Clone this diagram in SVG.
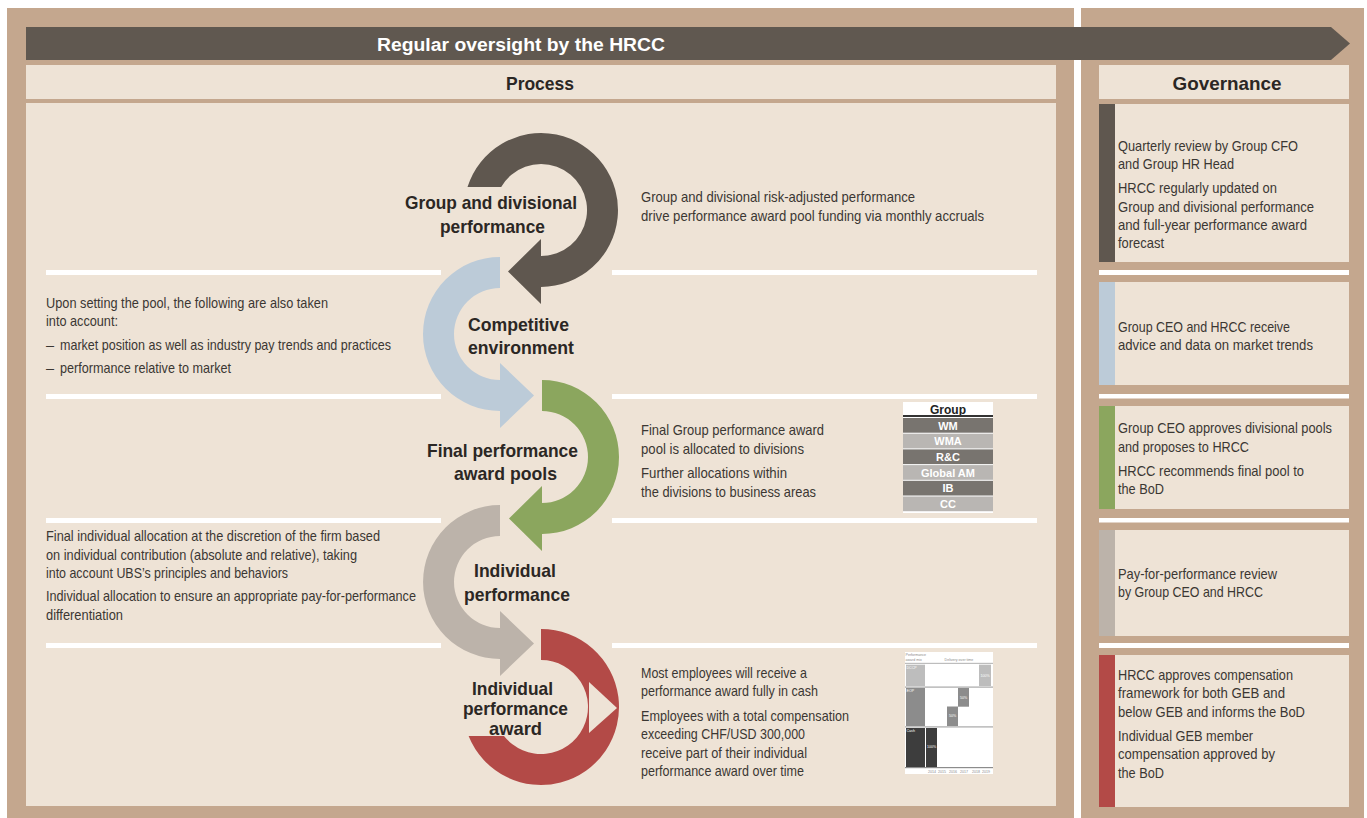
<svg xmlns="http://www.w3.org/2000/svg" width="1367" height="818" viewBox="0 0 1367 818">
<defs>
<style>
.tan{fill:#c4a78e}
.lt{fill:#eee3d6}
.sep{fill:#ffffff}
.b{font-family:"Liberation Sans",Arial,sans-serif;font-size:14.5px;fill:#3b3733}
.h{font-family:"Liberation Sans",Arial,sans-serif;font-weight:bold;font-size:19px;fill:#2b2724;text-anchor:middle}
.hd{font-family:"Liberation Sans",Arial,sans-serif;font-weight:bold;font-size:19px;fill:#2b2724;text-anchor:middle}
.t{font-family:"Liberation Sans",Arial,sans-serif;font-weight:bold;font-size:11px;fill:#ffffff;text-anchor:middle}
.c{font-family:"Liberation Sans",Arial,sans-serif;font-size:3.6px;fill:#8a8a8a}
.cw{font-family:"Liberation Sans",Arial,sans-serif;font-size:3.6px;fill:#ffffff}
</style>
</defs>
<rect width="1367" height="818" fill="#ffffff"/>
<!-- panels -->
<rect class="tan" x="7" y="8" width="1067" height="810"/>
<rect class="tan" x="1081" y="8" width="283" height="810"/>
<!-- banner -->
<g id="banner">
<path d="M26 27 H1331 L1350 43.5 L1331 60 H26 Z" fill="#605850"/>
<text x="521" y="51" font-family="Liberation Sans, Arial, sans-serif" font-weight="bold" font-size="18" fill="#ffffff" text-anchor="middle" textLength="288" lengthAdjust="spacingAndGlyphs">Regular oversight by the HRCC</text>
</g>
<!-- headers -->
<g id="process-header">
<rect class="lt" x="26" y="65" width="1030" height="34"/>
<text class="hd" x="540" y="89.5" textLength="68" lengthAdjust="spacingAndGlyphs">Process</text>
</g>
<g id="governance-header">
<rect class="lt" x="1099" y="65" width="250" height="34"/>
<text class="hd" x="1227" y="89.5" textLength="109" lengthAdjust="spacingAndGlyphs">Governance</text>
</g>
<!-- process area -->
<rect class="lt" x="26" y="103" width="1030" height="703"/>
<g id="separators">
<rect class="sep" x="46" y="270" width="395" height="5"/>
<rect class="sep" x="612" y="270" width="425" height="5"/>
<rect class="sep" x="46" y="394" width="395" height="5"/>
<rect class="sep" x="612" y="394" width="425" height="5"/>
<rect class="sep" x="46" y="518" width="395" height="5"/>
<rect class="sep" x="612" y="518" width="425" height="5"/>
<rect class="sep" x="46" y="643" width="395" height="5"/>
<rect class="sep" x="612" y="643" width="425" height="5"/>
</g>
<!-- connectors: circular arrows -->
<g id="connectors">
<path d="M467.5 187 A77 77 0 1 1 541 287 L541 304 L508 271.5 L541 239 L541 256 A46 46 0 1 0 501.2 187 Z" fill="#5f574f"/>
<path d="M500 257 A77 77 0 0 0 500 411 L500 428 L534 395.5 L500 363 L500 380 A46 46 0 0 1 500 288 Z" fill="#bccbd8"/>
<path d="M542 380 A77 77 0 0 1 542 534 L542 551 L509 518.5 L542 486 L542 503 A46 46 0 0 0 542 411 Z" fill="#8ba65e"/>
<path d="M500 505 A77 77 0 0 0 500 659 L500 676 L534 643.5 L500 611 L500 628 A46 46 0 0 1 500 536 Z" fill="#bcb3aa"/>
<path d="M541 629 A78 78 0 1 1 468.6 736 L504 736 A47 47 0 1 0 541 660 Z" fill="#b34a47"/>
<path d="M589 682 L617 708 L589 733 Z" fill="#eee3d6"/>
</g>
<!-- stage 1 -->
<g id="stage-group-performance">
<text class="h" x="491" y="209" textLength="172" lengthAdjust="spacingAndGlyphs">Group and divisional</text>
<text class="h" x="492.5" y="232.5" textLength="105" lengthAdjust="spacingAndGlyphs">performance</text>
<text class="b" x="641" y="202" textLength="274" lengthAdjust="spacingAndGlyphs">Group and divisional risk-adjusted performance</text>
<text class="b" x="641" y="221" textLength="343" lengthAdjust="spacingAndGlyphs">drive performance award pool funding via monthly accruals</text>
</g>
<!-- stage 2 -->
<g id="stage-competitive-environment">
<text class="h" x="518.5" y="330.5" textLength="101" lengthAdjust="spacingAndGlyphs">Competitive</text>
<text class="h" x="521" y="353.5" textLength="106" lengthAdjust="spacingAndGlyphs">environment</text>
<text class="b" x="46" y="307.5" textLength="282" lengthAdjust="spacingAndGlyphs">Upon setting the pool, the following are also taken</text>
<text class="b" x="46" y="325.5" textLength="72" lengthAdjust="spacingAndGlyphs">into account:</text>
<text class="b" x="46" y="350">–</text>
<text class="b" x="60" y="350" textLength="331" lengthAdjust="spacingAndGlyphs">market position as well as industry pay trends and practices</text>
<text class="b" x="46" y="372.5">–</text>
<text class="b" x="60" y="372.5" textLength="171" lengthAdjust="spacingAndGlyphs">performance relative to market</text>
</g>
<!-- stage 3 -->
<g id="stage-final-pools">
<text class="h" x="502.5" y="456.5" textLength="151" lengthAdjust="spacingAndGlyphs">Final performance</text>
<text class="h" x="505.5" y="480" textLength="103" lengthAdjust="spacingAndGlyphs">award pools</text>
<text class="b" x="641" y="435" textLength="183" lengthAdjust="spacingAndGlyphs">Final Group performance award</text>
<text class="b" x="641" y="453.5" textLength="163" lengthAdjust="spacingAndGlyphs">pool is allocated to divisions</text>
<text class="b" x="641" y="477.5" textLength="146" lengthAdjust="spacingAndGlyphs">Further allocations within</text>
<text class="b" x="641" y="496.5" textLength="175" lengthAdjust="spacingAndGlyphs">the divisions to business areas</text>
</g>
<g id="division-table">
<rect x="903" y="402" width="90" height="111" fill="#ffffff"/>
<text x="948" y="414" font-family="Liberation Sans, Arial, sans-serif" font-weight="bold" font-size="12" fill="#222222" text-anchor="middle">Group</text>
<rect x="903" y="415" width="90" height="2" fill="#333333"/>
<rect x="903" y="418" width="90" height="14.7" fill="#78746f"/>
<rect x="903" y="433.7" width="90" height="14.7" fill="#b9b6b3"/>
<rect x="903" y="449.4" width="90" height="14.7" fill="#78746f"/>
<rect x="903" y="465.1" width="90" height="14.7" fill="#b9b6b3"/>
<rect x="903" y="480.8" width="90" height="14.7" fill="#78746f"/>
<rect x="903" y="496.5" width="90" height="14.7" fill="#b9b6b3"/>
<text class="t" x="948" y="429.5">WM</text>
<text class="t" x="948" y="445.2">WMA</text>
<text class="t" x="948" y="460.9">R&amp;C</text>
<text class="t" x="948" y="476.6">Global AM</text>
<text class="t" x="948" y="492.3">IB</text>
<text class="t" x="948" y="508">CC</text>
</g>
<!-- stage 4 -->
<g id="stage-individual-performance">
<text class="h" x="515" y="577" textLength="82" lengthAdjust="spacingAndGlyphs">Individual</text>
<text class="h" x="517" y="600.5" textLength="106" lengthAdjust="spacingAndGlyphs">performance</text>
<text class="b" x="46" y="541" textLength="334" lengthAdjust="spacingAndGlyphs">Final individual allocation at the discretion of the firm based</text>
<text class="b" x="46" y="559.5" textLength="311" lengthAdjust="spacingAndGlyphs">on individual contribution (absolute and relative), taking</text>
<text class="b" x="46" y="578" textLength="242" lengthAdjust="spacingAndGlyphs">into account UBS’s principles and behaviors</text>
<text class="b" x="46" y="601" textLength="370" lengthAdjust="spacingAndGlyphs">Individual allocation to ensure an appropriate pay-for-performance</text>
<text class="b" x="46" y="619.5" textLength="77" lengthAdjust="spacingAndGlyphs">differentiation</text>
</g>
<!-- stage 5 -->
<g id="stage-individual-award">
<text class="h" x="512.5" y="695" textLength="81" lengthAdjust="spacingAndGlyphs">Individual</text>
<text class="h" x="515.5" y="715" textLength="105" lengthAdjust="spacingAndGlyphs">performance</text>
<text class="h" x="515.5" y="734.5" textLength="53" lengthAdjust="spacingAndGlyphs">award</text>
<text class="b" x="641" y="678" textLength="166" lengthAdjust="spacingAndGlyphs">Most employees will receive a</text>
<text class="b" x="641" y="696" textLength="177" lengthAdjust="spacingAndGlyphs">performance award fully in cash</text>
<text class="b" x="641" y="721" textLength="208" lengthAdjust="spacingAndGlyphs">Employees with a total compensation</text>
<text class="b" x="641" y="739" textLength="164" lengthAdjust="spacingAndGlyphs">exceeding CHF/USD 300,000</text>
<text class="b" x="641" y="757.5" textLength="166" lengthAdjust="spacingAndGlyphs">receive part of their individual</text>
<text class="b" x="641" y="776" textLength="163" lengthAdjust="spacingAndGlyphs">performance award over time</text>
</g>
<g id="award-chart">
<rect x="905" y="652" width="88" height="122" fill="#ffffff"/>
<text class="c" x="905.5" y="656">Performance</text>
<text class="c" x="905.5" y="660.5">award mix</text>
<text class="c" x="959" y="660.5" text-anchor="middle">Delivery over time</text>
<rect x="905" y="662.8" width="88" height="1.2" fill="#bdbdbd"/>
<rect x="906" y="664.7" width="19" height="21.3" fill="#bdbdbd"/>
<text class="cw" x="906.5" y="668.5">DCCP</text>
<rect x="979" y="664.7" width="12" height="21.3" fill="#bdbdbd"/>
<text class="cw" x="985" y="676.5" text-anchor="middle">100%</text>
<rect x="905" y="686.5" width="88" height="1.2" fill="#a8a8a8"/>
<rect x="906" y="688" width="19" height="38" fill="#8c8c8c"/>
<text class="cw" x="906.5" y="692">EOP</text>
<rect x="958" y="688" width="11" height="18.7" fill="#8c8c8c"/>
<text class="cw" x="963.5" y="698.5" text-anchor="middle">50%</text>
<rect x="947" y="706.5" width="11" height="19.5" fill="#8c8c8c"/>
<text class="cw" x="952.5" y="717" text-anchor="middle">50%</text>
<rect x="905" y="726.3" width="88" height="1.2" fill="#a8a8a8"/>
<rect x="906" y="728" width="19" height="39" fill="#3d3d3d"/>
<text class="cw" x="906.5" y="732">Cash</text>
<rect x="926" y="728" width="11" height="39" fill="#3d3d3d"/>
<text class="cw" x="931.5" y="748" text-anchor="middle">100%</text>
<rect x="905" y="767" width="88" height="1.2" fill="#8c8c8c"/>
<text class="c" x="932" y="773" text-anchor="middle">2014</text>
<text class="c" x="942" y="773" text-anchor="middle">2015</text>
<text class="c" x="953" y="773" text-anchor="middle">2016</text>
<text class="c" x="964" y="773" text-anchor="middle">2017</text>
<text class="c" x="976" y="773" text-anchor="middle">2018</text>
<text class="c" x="986" y="773" text-anchor="middle">2019</text>
</g>
<!-- governance -->
<g id="gov-1">
<rect class="lt" x="1099" y="104" width="250" height="158"/>
<rect x="1099" y="104" width="16" height="158" fill="#5f574f"/>
<text class="b" x="1118" y="150.5" textLength="180" lengthAdjust="spacingAndGlyphs">Quarterly review by Group CFO</text>
<text class="b" x="1118" y="169" textLength="116" lengthAdjust="spacingAndGlyphs">and Group HR Head</text>
<text class="b" x="1118" y="193" textLength="159" lengthAdjust="spacingAndGlyphs">HRCC regularly updated on</text>
<text class="b" x="1118" y="211.5" textLength="196" lengthAdjust="spacingAndGlyphs">Group and divisional performance</text>
<text class="b" x="1118" y="230" textLength="189" lengthAdjust="spacingAndGlyphs">and full-year performance award</text>
<text class="b" x="1118" y="248.3" textLength="46" lengthAdjust="spacingAndGlyphs">forecast</text>
</g>
<rect class="sep" x="1099" y="270" width="250" height="5"/>
<g id="gov-2">
<rect class="lt" x="1099" y="282" width="250" height="103"/>
<rect x="1099" y="282" width="16" height="103" fill="#bccbd8"/>
<text class="b" x="1118" y="331.5" textLength="172" lengthAdjust="spacingAndGlyphs">Group CEO and HRCC receive</text>
<text class="b" x="1118" y="350" textLength="195" lengthAdjust="spacingAndGlyphs">advice and data on market trends</text>
</g>
<rect class="sep" x="1099" y="394" width="250" height="4.5"/>
<g id="gov-3">
<rect class="lt" x="1099" y="406" width="250" height="103"/>
<rect x="1099" y="406" width="16" height="103" fill="#8ba65e"/>
<text class="b" x="1118" y="433.3" textLength="214" lengthAdjust="spacingAndGlyphs">Group CEO approves divisional pools</text>
<text class="b" x="1118" y="452" textLength="131" lengthAdjust="spacingAndGlyphs">and proposes to HRCC</text>
<text class="b" x="1118" y="476" textLength="186" lengthAdjust="spacingAndGlyphs">HRCC recommends final pool to</text>
<text class="b" x="1118" y="494.3" textLength="46" lengthAdjust="spacingAndGlyphs">the BoD</text>
</g>
<rect class="sep" x="1099" y="518" width="250" height="4.5"/>
<g id="gov-4">
<rect class="lt" x="1099" y="530" width="250" height="106"/>
<rect x="1099" y="530" width="16" height="106" fill="#bcb3aa"/>
<text class="b" x="1118" y="579" textLength="159" lengthAdjust="spacingAndGlyphs">Pay-for-performance review</text>
<text class="b" x="1118" y="597.3" textLength="145" lengthAdjust="spacingAndGlyphs">by Group CEO and HRCC</text>
</g>
<rect class="sep" x="1099" y="643" width="250" height="5"/>
<g id="gov-5">
<rect class="lt" x="1099" y="655" width="250" height="152"/>
<rect x="1099" y="655" width="16" height="152" fill="#b34a47"/>
<text class="b" x="1118" y="680" textLength="175" lengthAdjust="spacingAndGlyphs">HRCC approves compensation</text>
<text class="b" x="1118" y="698.3" textLength="167" lengthAdjust="spacingAndGlyphs">framework for both GEB and</text>
<text class="b" x="1118" y="716.7" textLength="187" lengthAdjust="spacingAndGlyphs">below GEB and informs the BoD</text>
<text class="b" x="1118" y="740.7" textLength="135" lengthAdjust="spacingAndGlyphs">Individual GEB member</text>
<text class="b" x="1118" y="759" textLength="157" lengthAdjust="spacingAndGlyphs">compensation approved by</text>
<text class="b" x="1118" y="778.3" textLength="46" lengthAdjust="spacingAndGlyphs">the BoD</text>
</g>
</svg>
